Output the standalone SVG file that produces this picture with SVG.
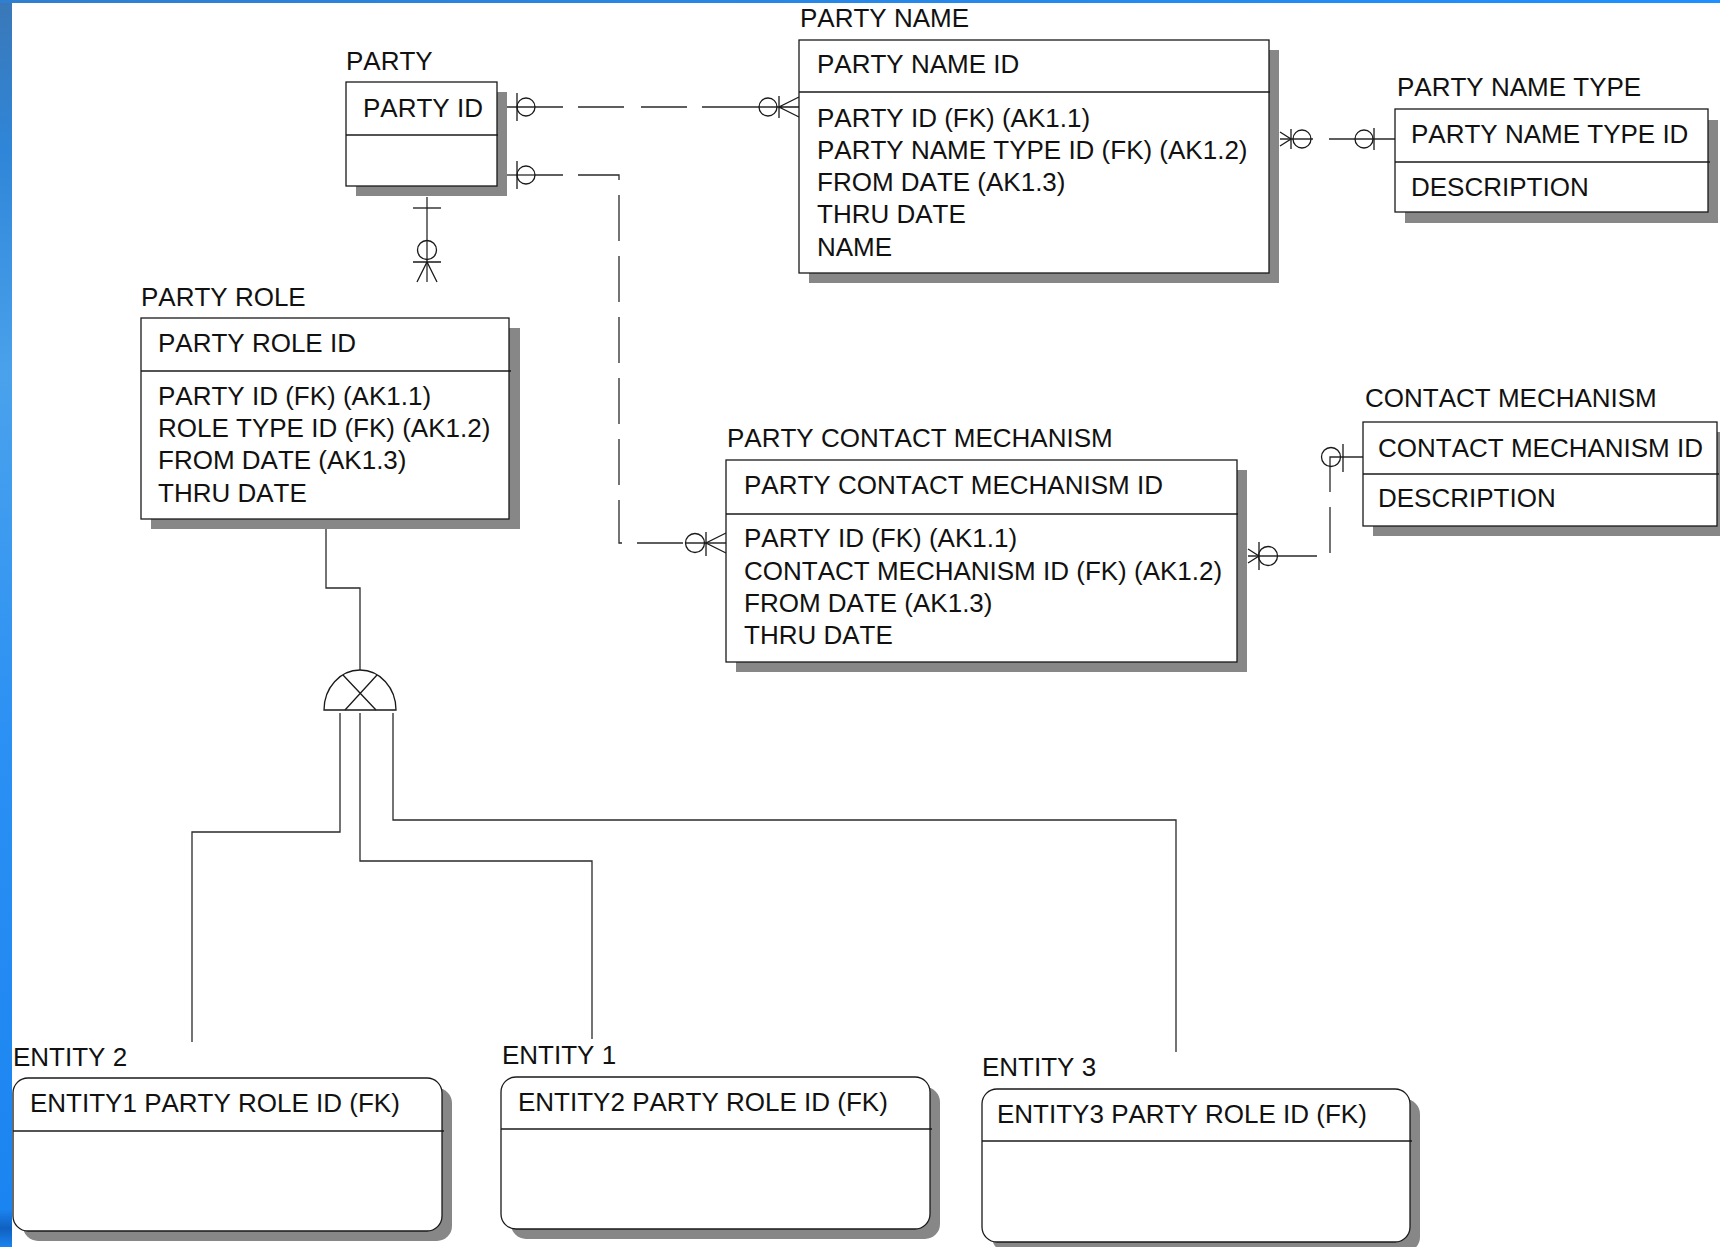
<svg xmlns="http://www.w3.org/2000/svg" width="1720" height="1247" viewBox="0 0 1720 1247">
  <defs>
    <linearGradient id="sideBar" x1="0" y1="0" x2="0" y2="1">
      <stop offset="0" stop-color="#3a78b8"/>
      <stop offset="0.12" stop-color="#2f86d8"/>
      <stop offset="0.3" stop-color="#4aa2ec"/>
      <stop offset="0.6" stop-color="#2a90f4"/>
      <stop offset="0.97" stop-color="#1a84f0"/>
      <stop offset="0.985" stop-color="#1060c0"/>
      <stop offset="1" stop-color="#1a84f0"/>
    </linearGradient>
    <linearGradient id="topBar" x1="0" y1="0" x2="1" y2="0">
      <stop offset="0" stop-color="#2f7fd0"/>
      <stop offset="1" stop-color="#1e90ff"/>
    </linearGradient>
  </defs>
  <style>
    .box { fill: #ffffff; stroke: #1a1a1a; stroke-width: 1.3; }
    .shadow { fill: #878787; }
    .div { stroke: #1a1a1a; stroke-width: 1.3; }
    .lbl { font-family: "Liberation Sans", Arial, sans-serif; font-size: 26px; fill: #111111; font-kerning: none; }
    .ln { fill: none; stroke: #2a2a2a; stroke-width: 1.3; }
    .sym { fill: none; stroke: #1a1a1a; stroke-width: 1.3; }
  </style>

  <!-- canvas -->
  <rect x="0" y="0" width="1720" height="1247" fill="#ffffff"/>
  <rect x="0" y="0" width="12" height="1247" fill="url(#sideBar)"/>
  <rect x="0" y="0" width="1720" height="3" fill="url(#topBar)"/>

  <!-- relationships -->
  <g id="connectors">
    <!-- PARTY to PARTY NAME -->
    <path class="ln" d="M505 107 H563 M578 107 H624 M641 107 H687 M702 107 H779"/>
    <path class="sym" d="M517 93 V121"/>
    <circle class="sym" cx="526" cy="107" r="9"/>
    <circle class="sym" cx="768" cy="107" r="9"/>
    <path class="sym" d="M779 96 V118 M799 97 L779 107 L799 117 M779 107 H799"/>

    <!-- PARTY to PARTY CONTACT MECHANISM -->
    <path class="ln" d="M505 175 H535"/>
    <path class="ln" d="M535 175 H619 V543 H686" stroke-dasharray="46 15" stroke-dashoffset="18"/>
    <path class="ln" d="M686 543 H726"/>
    <path class="sym" d="M517 161 V189"/>
    <circle class="sym" cx="526" cy="175" r="9"/>
    <circle class="sym" cx="695" cy="543" r="9.5"/>
    <path class="sym" d="M706 532 V556 M726 533 L706 543 L726 553"/>

    <!-- PARTY to PARTY ROLE -->
    <path class="ln" d="M427 197 V282"/>
    <path class="sym" d="M413 208 H441"/>
    <circle class="sym" cx="427" cy="250" r="9.5"/>
    <path class="sym" d="M413 262 H441 M417 282 L427 262 L437 282"/>

    <!-- PARTY NAME TYPE to PARTY NAME -->
    <path class="ln" d="M1280 139 H1313 M1329 139 H1395"/>
    <path class="sym" d="M1280 132 L1291 139 L1280 146 M1291 129 V149"/>
    <circle class="sym" cx="1302" cy="139" r="9"/>
    <circle class="sym" cx="1364" cy="139" r="9"/>
    <path class="sym" d="M1374 128 V150"/>

    <!-- CONTACT MECHANISM to PARTY CONTACT MECHANISM -->
    <path class="ln" d="M1248 556 H1317 M1330 553 V507 M1330 492 V457 H1363"/>
    <path class="sym" d="M1248 549 L1259 556 L1248 563 M1259 542 V570"/>
    <circle class="sym" cx="1268" cy="556" r="9.5"/>
    <circle class="sym" cx="1331" cy="457" r="9.5"/>
    <path class="sym" d="M1343 444 V472"/>

    <!-- PARTY ROLE subtype cluster -->
    <path class="ln" d="M326 529 V588 H360 V670"/>
    <path class="sym" d="M324 710 A36 40 0 0 1 396 710 Z"/>
    <path class="sym" d="M345 710 L377 675 M343 675 L376 710"/>
    <path class="ln" d="M340 713 V832 H192 V1042"/>
    <path class="ln" d="M360 713 V861 H592 V1039"/>
    <path class="ln" d="M393 713 V820 H1176 V1052"/>
  </g>

  <!-- PARTY -->
  <g id="party">
    <rect class="shadow" x="356" y="92" width="151" height="104"/>
    <rect class="box" x="346" y="82" width="151" height="104"/>
    <line class="div" x1="346" y1="135" x2="498" y2="135"/>
    <text class="lbl" x="346" y="70">PARTY</text>
    <text class="lbl" x="363" y="117">PARTY ID</text>
  </g>

  <!-- PARTY NAME -->
  <g id="party-name">
    <rect class="shadow" x="809" y="50" width="470" height="233"/>
    <rect class="box" x="799" y="40" width="470" height="233"/>
    <line class="div" x1="799" y1="92" x2="1270" y2="92"/>
    <text class="lbl" x="800" y="27">PARTY NAME</text>
    <text class="lbl" x="817" y="73">PARTY NAME ID</text>
    <text class="lbl" x="817" y="127">PARTY ID (FK) (AK1.1)</text>
    <text class="lbl" x="817" y="159">PARTY NAME TYPE ID (FK) (AK1.2)</text>
    <text class="lbl" x="817" y="191">FROM DATE (AK1.3)</text>
    <text class="lbl" x="817" y="223">THRU DATE</text>
    <text class="lbl" x="817" y="256">NAME</text>
  </g>

  <!-- PARTY NAME TYPE -->
  <g id="party-name-type">
    <rect class="shadow" x="1405" y="120" width="313" height="103"/>
    <rect class="box" x="1395" y="109" width="313" height="103"/>
    <line class="div" x1="1395" y1="162" x2="1710" y2="162"/>
    <text class="lbl" x="1397" y="96">PARTY NAME TYPE</text>
    <text class="lbl" x="1411" y="143">PARTY NAME TYPE ID</text>
    <text class="lbl" x="1411" y="196">DESCRIPTION</text>
  </g>

  <!-- PARTY ROLE -->
  <g id="party-role">
    <rect class="shadow" x="151" y="328" width="369" height="201"/>
    <rect class="box" x="141" y="318" width="368" height="201"/>
    <line class="div" x1="141" y1="371" x2="511" y2="371"/>
    <text class="lbl" x="141" y="306">PARTY ROLE</text>
    <text class="lbl" x="158" y="352">PARTY ROLE ID</text>
    <text class="lbl" x="158" y="405">PARTY ID (FK) (AK1.1)</text>
    <text class="lbl" x="158" y="437">ROLE TYPE ID (FK) (AK1.2)</text>
    <text class="lbl" x="158" y="469">FROM DATE (AK1.3)</text>
    <text class="lbl" x="158" y="502">THRU DATE</text>
  </g>

  <!-- PARTY CONTACT MECHANISM -->
  <g id="party-contact-mechanism">
    <rect class="shadow" x="736" y="470" width="511" height="202"/>
    <rect class="box" x="726" y="460" width="511" height="202"/>
    <line class="div" x1="726" y1="514" x2="1238" y2="514"/>
    <text class="lbl" x="727" y="447">PARTY CONTACT MECHANISM</text>
    <text class="lbl" x="744" y="494">PARTY CONTACT MECHANISM ID</text>
    <text class="lbl" x="744" y="547">PARTY ID (FK) (AK1.1)</text>
    <text class="lbl" x="744" y="580">CONTACT MECHANISM ID (FK) (AK1.2)</text>
    <text class="lbl" x="744" y="612">FROM DATE (AK1.3)</text>
    <text class="lbl" x="744" y="644">THRU DATE</text>
  </g>

  <!-- CONTACT MECHANISM -->
  <g id="contact-mechanism">
    <rect class="shadow" x="1373" y="432" width="354" height="104"/>
    <rect class="box" x="1363" y="422" width="354" height="104"/>
    <line class="div" x1="1363" y1="474" x2="1719" y2="474"/>
    <text class="lbl" x="1365" y="407">CONTACT MECHANISM</text>
    <text class="lbl" x="1378" y="457">CONTACT MECHANISM ID</text>
    <text class="lbl" x="1378" y="507">DESCRIPTION</text>
  </g>

  <!-- ENTITY 2 -->
  <g id="entity-2">
    <rect class="shadow" x="23" y="1088" width="429" height="153" rx="15"/>
    <rect class="box" x="13" y="1078" width="429" height="153" rx="15"/>
    <line class="div" x1="13" y1="1131" x2="444" y2="1131"/>
    <text class="lbl" x="13" y="1066">ENTITY 2</text>
    <text class="lbl" x="30" y="1112">ENTITY1 PARTY ROLE ID (FK)</text>
  </g>

  <!-- ENTITY 1 -->
  <g id="entity-1">
    <rect class="shadow" x="511" y="1087" width="429" height="152" rx="15"/>
    <rect class="box" x="501" y="1077" width="429" height="152" rx="15"/>
    <line class="div" x1="501" y1="1129" x2="932" y2="1129"/>
    <text class="lbl" x="502" y="1064">ENTITY 1</text>
    <text class="lbl" x="518" y="1111">ENTITY2 PARTY ROLE ID (FK)</text>
  </g>

  <!-- ENTITY 3 -->
  <g id="entity-3">
    <rect class="shadow" x="992" y="1099" width="428" height="153" rx="15"/>
    <rect class="box" x="982" y="1089" width="428" height="153" rx="15"/>
    <line class="div" x1="982" y1="1141" x2="1412" y2="1141"/>
    <text class="lbl" x="982" y="1076">ENTITY 3</text>
    <text class="lbl" x="997" y="1123">ENTITY3 PARTY ROLE ID (FK)</text>
  </g>
</svg>
